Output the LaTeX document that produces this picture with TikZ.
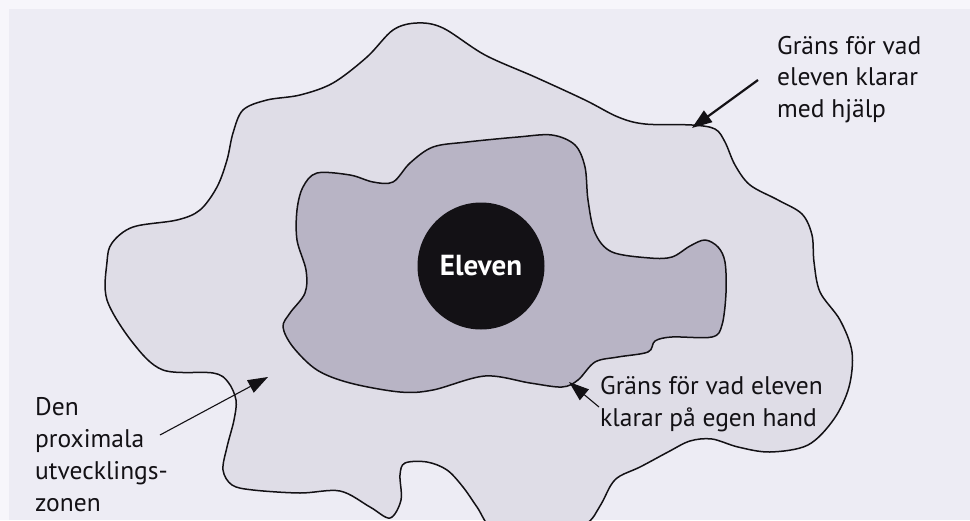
\documentclass[tikz,border=0pt]{standalone}
\usepackage{fontspec}
\setmainfont{PT Sans}
\usetikzlibrary{arrows.meta}
\definecolor{paper}{HTML}{EDECF4}
\definecolor{paperedge}{HTML}{F7F6FB}
\definecolor{outerfill}{HTML}{DFDDE7}
\definecolor{innerfill}{HTML}{B8B4C5}
\definecolor{ink}{HTML}{131115}
\tikzset{
  outline/.style={draw=ink, line width=1.5pt, line join=round},
  lab/.style={text=ink, align=left, inner sep=0pt, font=\fontsize{25.5}{32}\selectfont},
  bigarrow/.style={draw=ink, line width=2.2pt, -{Triangle[length=20pt,width=14pt]}},
  thinarrow/.style={draw=ink, line width=1.1pt, -{Triangle[length=20pt,width=14pt]}},
  pupil/.style={circle, fill=ink, minimum size=127pt, inner sep=0pt, text=white,
    font=\fontsize{29}{32}\selectfont\bfseries}
}
\begin{document}
\begin{tikzpicture}[x=1pt,y=-1pt]
\useasboundingbox (0,0) rectangle (970,520);
\fill[paper] (0,0) rectangle (970,520);
\fill[paperedge] (0,0) rectangle (9,520);
\fill[paperedge] (0,0) rectangle (970,9);
\begin{scope}
\clip (0,0) rectangle (970,520);
\draw[outline, fill=outerfill] plot[smooth cycle, tension=0.55] coordinates {
 (417,23) (443,28) (485,55) (535,77) (585,100) (618,117) (645,124) (692,125)
 (715,129) (725,142) (735,165) (750,185) (778,200) (802,214) (812,235) (814,262)
 (820,292) (840,320) (852,352) (849,387) (834,419) (808,445) (770,452) (738,447)
 (712,439) (690,441) (668,452) (640,467) (620,476) (611,485) (600,506) (585,525)
 (540,548) (495,532) (477,507) (463,487) (447,470) (427,462) (405,463) (400,475)
 (401,500) (390,518) (370,507) (340,491) (300,493) (253,490) (232,485) (223,470)
 (227,447) (234,420) (236,400) (228,382) (213,373) (163,370) (133,343) (107,300)
 (107,262) (112,243) (133,227) (177,220) (200,210) (217,187) (227,160) (233,133)
 (243,110) (267,100) (300,95) (333,83) (367,57) (393,30)};
\draw[outline, fill=innerfill] plot[smooth cycle, tension=0.55] coordinates {
 (317,173) (350,175) (373,182) (393,182) (410,163) (433,147) (467,142) (518,137)
 (552,135) (575,145) (585,167) (588,200) (595,233) (612,252) (650,258) (672,257)
 (690,246) (705,240) (718,247) (725,262) (726,293) (722,325) (712,337) (672,337)
 (655,341) (648,352) (618,357) (595,362) (578,380) (562,387) (530,383) (485,376)
 (433,390) (400,392) (350,383) (317,370) (293,347) (283,327) (290,313) (305,293)
 (306,270) (297,240) (297,210) (303,187)};
\end{scope}
\node[pupil] (elev) at (481,266) {Eleven};
\node[lab, anchor=north west, font=\fontsize{25.5}{31.5}\selectfont] (help) at (777,36) {Gräns för vad\\eleven klarar\\med hjälp};
\node[lab, anchor=north west] (self) at (600,376) {Gräns för vad eleven\\klarar på egen hand};
\node[lab, anchor=north west] (zpd) at (35,397) {Den\\proximala\\utvecklings-\\zonen};
\coordinate (helpstart) at (758,80);
\coordinate (helptip) at (692,128);
\coordinate (selfstart) at (599,407);
\coordinate (selftip) at (569,382);
\coordinate (zpdstart) at (160,435);
\coordinate (zpdtip) at (268,377);
\draw[bigarrow] (helpstart) -- (helptip);
\draw[thinarrow] (selfstart) -- (selftip);
\draw[thinarrow] (zpdstart) -- (zpdtip);
\end{tikzpicture}
\end{document}
